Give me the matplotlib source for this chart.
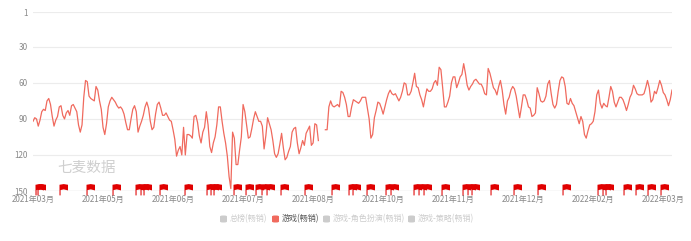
import matplotlib
matplotlib.use("Agg")
import matplotlib.pyplot as plt
from matplotlib.path import Path
from matplotlib.patches import FancyBboxPatch
import numpy as np

plt.rcParams['font.family'] = ['Noto Sans CJK SC', 'DejaVu Sans']

nan = np.nan

# daily rank of 游戏(畅销), 2021-03 .. 2022-03 (nan days are gaps)
ranks = [
    92, 89, 90, 96, 91, 84, 82, 83, 75, 73,
    78, 88, 96, 91, 88, 80, 79, 87, 90, 85,
    83, 87, 79, 78, 81, 84, 95, 101, 95, 72,
    58, 59, 71, 73, 74, 75, 63, 66, 75, 82,
    97, 103, 94, 80, 75, 72, 74, 76, 79, 81,
    80, 82, 86, 93, 99, 99, 90, 82, 79, 84,
    101, 96, 92, 87, 80, 76, 81, 92, 99, 97,
    86, 78, 76, 81, 87, 87, 85, 88, 91, 92,
    99, 107, 121, 116, 113, 120, 97, 120, 103, 103,
    104, 106, 88, 87, 93, 104, 110, 101, 97, 84,
    95, 113, 118, 110, 105, 95, 80, 80, 92, 102,
    110, 121, 138, 148, 101, 106, 128, 128, 116, 105,
    78, 84, 95, 106, 105, 98, 90, 84, 88, 92,
    92, 96, 115, 104, 89, 94, 99, 108, 119, 122,
    119, 111, 102, 114, 124, 122, 117, 113, 101, 98,
    97, 110, 119, 114, 108, 112, 102, 99, 96, 112,
    110, 94, 95, 108, nan, nan, nan, 99, 99, 80,
    75, 79, 80, 79, 78, 80, 67, 68, 72, 78,
    88, 88, 80, 74, 75, 76, 77, 75, 72, 72,
    72, 81, 90, 106, 103, 89, 83, 76, 77, 81,
    86, 80, 74, 69, 66, 69, 70, 69, 72, 75,
    72, 67, 60, 61, 70, 70, 67, 60, 52, 63,
    64, 70, 74, 80, 72, 65, 67, 67, 65, 60,
    58, 62, 47, 49, 64, 80, 80, 76, 71, 60,
    55, 55, 64, 60, 55, 53, 44, 52, 62, 66,
    63, 61, 58, 57, 59, 61, 61, 64, 69, 70,
    48, 52, 58, 64, 66, 70, 63, 58, 66, 78,
    86, 75, 72, 66, 63, 65, 71, 80, 89, 80,
    70, 70, 74, 80, 81, 88, 87, 85, 64, 69,
    75, 76, 75, 71, 61, 58, 69, 78, 81, 78,
    67, 58, 55, 56, 63, 77, 78, 73, 77, 79,
    84, 89, 94, 88, 92, 103, 106, 100, 95, 94,
    92, 84, 70, 66, 77, 81, 77, 79, 80, 72,
    63, 67, 76, 80, 76, 72, 72, 74, 78, 83,
    78, 72, 69, 62, 65, 69, 70, 70, 70, 69,
    64, 58, 64, 76, 74, 67, 69, 64, 58, 62,
    68, 70, 74, 79, 74, 66,
]

# days that carry an event flag
event_days = [1, 2, 15, 30, 45, 58, 61, 63, 72, 86, 99, 101, 103, 114, 121,
              127, 130, 133, 141, 155, 170, 180, 182, 190, 201, 204, 217, 220,
              223, 233, 245, 248, 250, 261, 274, 288, 302, 322, 325, 327, 337,
              344, 351, 358]

x_labels = ['2021年03月', '2021年05月', '2021年06月', '2021年07月', '2021年08月',
            '2021年10月', '2021年11月', '2021年12月', '2022年02月', '2022年03月']
label_step = 40

y_ticks = [1, 30, 60, 90, 120, 150]

legend_names = ['总榜(畅销)', '游戏(畅销)', '游戏-角色扮演(畅销)', '游戏-策略(畅销)']
legend_active = [False, True, False, False]

line_color = '#f06a5e'
flag_color = '#e00000'

fig = plt.figure(figsize=(6.91, 2.41), dpi=100)
ax = fig.add_axes([33 / 691, 1 - 191 / 241, (672 - 33) / 691, (191 - 12) / 241])

days = np.arange(len(ranks))
ax.plot(days, ranks, color=line_color, lw=0.9, zorder=3)

# flag marker: pole going down, wavy flag body on top right
flag = Path([(0, -0.55), (0.15, -0.55), (0.15, 0.2), (0.6, 0.3), (1.2, 0.15),
             (1.2, 0.95), (0.6, 1.05), (0, 0.95), (0, -0.55)],
            [Path.MOVETO] + [Path.LINETO] * 7 + [Path.CLOSEPOLY])
ax.scatter(event_days, [150] * len(event_days), marker=flag, s=150,
           color=flag_color, lw=0, zorder=4, clip_on=False)

ax.set_xlim(0, len(ranks) - 1)
ax.set_ylim(150, 1)
ax.set_yticks(y_ticks)
ax.set_yticklabels([str(v) for v in y_ticks])
ax.set_xticks(days[::label_step][:len(x_labels)])
ax.set_xticklabels(x_labels)

for v in y_ticks[:-1]:
    ax.axhline(v, color='#ececec', lw=0.8, zorder=1)
ax.axhline(150, color='#cccccc', lw=0.9, zorder=2)

for s in ax.spines.values():
    s.set_visible(False)
ax.tick_params(axis='both', length=0, labelsize=5.8, colors='#888888')
ax.tick_params(axis='y', pad=4)
ax.tick_params(axis='x', pad=3)

ax.text(24 / 639, 0.13, '七麦数据', transform=ax.transAxes, fontsize=10.5,
        color='#cfcfcf', ha='left', va='center')

# legend row
leg_x = [220, 272, 323, 408]
leg_y = 1 - 219 / 241
for xpx, name, on in zip(leg_x, legend_names, legend_active):
    c = line_color if on else '#cccccc'
    tc = '#555555' if on else '#cccccc'
    box = FancyBboxPatch((xpx / 691, leg_y - 3.5 / 241), 7 / 691, 7 / 241,
                         boxstyle='round,pad=0,rounding_size=0.004',
                         transform=fig.transFigure, color=c, lw=0)
    fig.patches.append(box)
    fig.text((xpx + 10) / 691, leg_y, name, fontsize=5.8, color=tc,
             ha='left', va='center')

fig.savefig('out.png', dpi=100)
